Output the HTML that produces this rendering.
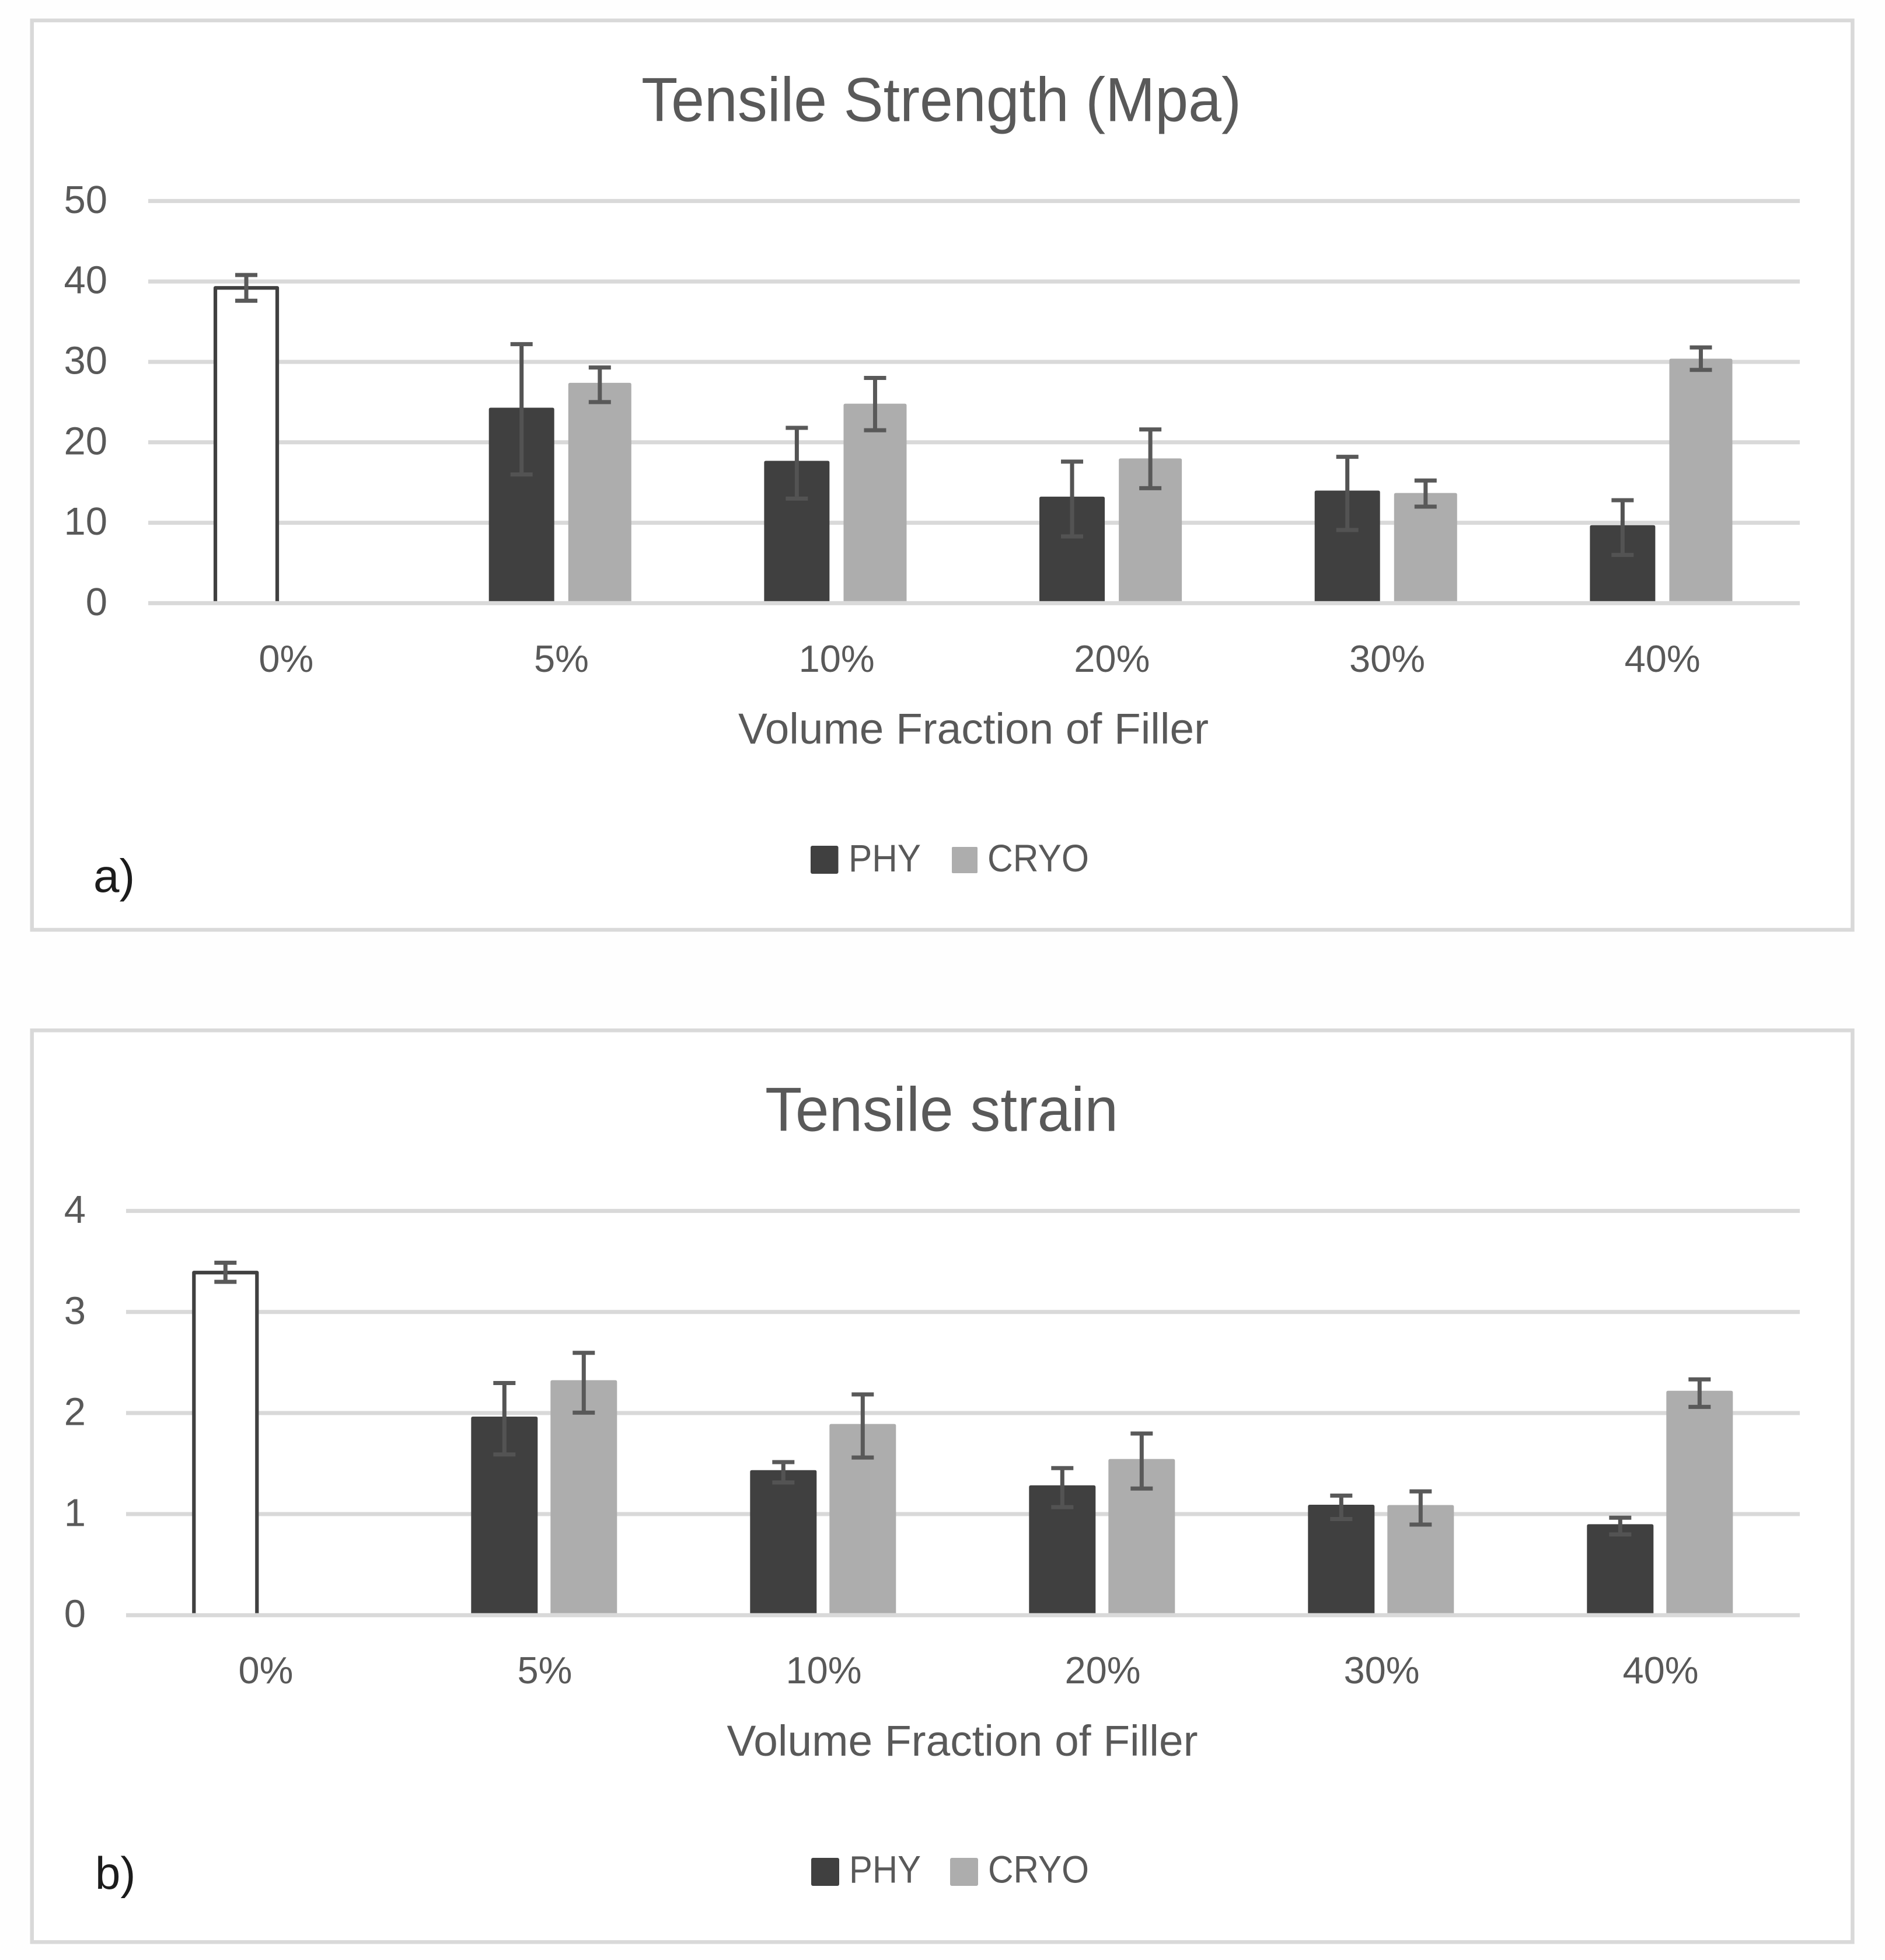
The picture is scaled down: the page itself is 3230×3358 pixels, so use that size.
<!DOCTYPE html>
<html lang="en">
<head>
<meta charset="utf-8">
<title>Tensile Strength and Tensile Strain by Volume Fraction of Filler</title>
<style>
html,body{margin:0;padding:0;background:#fff;width:3230px;height:3358px;overflow:hidden}
svg{display:block}
text{font-family:"Liberation Sans",Arial,sans-serif;fill:#595959}
</style>
</head>
<body>
<svg id="figure" xmlns="http://www.w3.org/2000/svg" width="3230" height="3358" viewBox="0 0 3230 3358">
  <rect x="0" y="0" width="3230" height="3358" fill="#fefefe"/>

  <g id="chart-a">
    <rect x="54.8" y="35" width="3119.6" height="1558" fill="#ffffff" stroke="#d9d9d9" stroke-width="6.5"/>
    <text x="1099" y="207.5" font-size="107" textLength="1028" lengthAdjust="spacingAndGlyphs">Tensile Strength (Mpa)</text>
    <text x="1265" y="1274" font-size="74" textLength="806" lengthAdjust="spacingAndGlyphs">Volume Fraction of Filler</text>
    <g>
      <rect x="1389" y="1449" width="47.5" height="48" rx="3" fill="#404040"/>
      <text x="1454" y="1493" font-size="66" textLength="124" lengthAdjust="spacingAndGlyphs">PHY</text>
      <rect x="1631" y="1451" width="44" height="45" rx="2" fill="#adadad"/>
      <text x="1692" y="1493" font-size="66" textLength="174" lengthAdjust="spacingAndGlyphs">CRYO</text>
    </g>
    <text x="160" y="1528" font-size="80" style="fill:#1c1c1c">a)</text>
  </g>

  <g id="chart-b">
    <rect x="54.8" y="1765.3" width="3119.6" height="1562" fill="#ffffff" stroke="#d9d9d9" stroke-width="6.5"/>
    <text x="1311" y="1937.5" font-size="107" textLength="605" lengthAdjust="spacingAndGlyphs">Tensile strain</text>
    <text x="1245.5" y="3008" font-size="74" textLength="807" lengthAdjust="spacingAndGlyphs">Volume Fraction of Filler</text>
    <g>
      <rect x="1390" y="3183" width="48" height="48" rx="3" fill="#404040"/>
      <text x="1455" y="3225.5" font-size="66" textLength="123" lengthAdjust="spacingAndGlyphs">PHY</text>
      <rect x="1628" y="3183" width="48" height="48" rx="3" fill="#adadad"/>
      <text x="1693" y="3225.5" font-size="66" textLength="173" lengthAdjust="spacingAndGlyphs">CRYO</text>
    </g>
    <text x="163" y="3236" font-size="78" style="fill:#1c1c1c">b)</text>
  </g>
</svg>

<script>
const fillerCategories = ['0%', '5%', '10%', '20%', '30%', '40%'];

const strengthTicks = [0, 10, 20, 30, 40, 50];
const strengthPhy = [39.2, 24.3, 17.7, 13.25, 14.0, 9.7];
const strengthPhyPlus = [1.6, 7.9, 4.1, 4.35, 4.2, 3.1];
const strengthPhyMinus = [1.6, 8.3, 4.7, 4.95, 4.9, 3.7];
const strengthCryo = [null, 27.4, 24.8, 18.0, 13.7, 30.4];
const strengthCryoPlus = [null, 1.9, 3.2, 3.6, 1.55, 1.4];
const strengthCryoMinus = [null, 2.4, 3.3, 3.7, 1.7, 1.4];

const strainTicks = [0, 1, 2, 3, 4];
const strainPhy = [3.39, 1.965, 1.435, 1.285, 1.093, 0.9];
const strainPhyPlus = [0.097, 0.332, 0.079, 0.17, 0.09, 0.064];
const strainPhyMinus = [0.092, 0.375, 0.122, 0.216, 0.142, 0.101];
const strainCryo = [null, 2.325, 1.892, 1.545, 1.09, 2.22];
const strainCryoPlus = [null, 0.271, 0.292, 0.252, 0.135, 0.113];
const strainCryoMinus = [null, 0.321, 0.332, 0.292, 0.194, 0.159];

const SVG_NS = 'http://www.w3.org/2000/svg';

function make(tag, parent, attrs) {
  const el = document.createElementNS(SVG_NS, tag);
  for (const key in attrs) el.setAttribute(key, attrs[key]);
  parent.appendChild(el);
  return el;
}

function drawChart(cfg) {
  const root = document.getElementById(cfg.rootId);
  const maxTick = cfg.ticks[cfg.ticks.length - 1];
  const yScale = v => cfg.y0 - v * (cfg.y0 - cfg.yTop) / maxTick;
  const band = (cfg.xRight - cfg.xLeft) / cfg.categories.length;
  const xScale = i => cfg.xLeft + band * (i + 0.5);
  const floor = cfg.y0 - 3.5;

  const gridGroup = make('g', root, {});
  
  
  const tickGroup = make('g', root, {});
  
  
  cfg.ticks.forEach(t => {
    const line = make('line', gridGroup, {
      x1: cfg.xLeft, x2: cfg.xRight, y1: yScale(t), y2: yScale(t),
      stroke: '#d9d9d9', 'stroke-width': 7
    });
    
    
    const label = make('text', tickGroup, {
      x: cfg.yLabelX, y: yScale(t) + 20.5, 'font-size': 67, 'text-anchor': 'end'
    });
    label.textContent = String(t);
    
    
  });

  const xGroup = make('g', root, {});
  
  
  cfg.categories.forEach((c, i) => {
    const label = make('text', xGroup, {
      x: xScale(i) + 0.5, y: cfg.xLabelY, 'font-size': 65, 'text-anchor': 'middle'
    });
    label.textContent = c;
    
    
  });

  function errorBar(parent, cx, value, plus, minus, color, seriesName, cat) {
    const g = make('g', parent, {});
    
    
    const hi = yScale(value + plus);
    const lo = yScale(value - minus);
    make('line', g, { x1: cx, x2: cx, y1: hi, y2: lo, stroke: color, 'stroke-width': 7 });
    make('line', g, { x1: cx - 19, x2: cx + 19, y1: hi, y2: hi, stroke: '#595959', 'stroke-width': 7 });
    make('line', g, { x1: cx - 19, x2: cx + 19, y1: lo, y2: lo, stroke: color, 'stroke-width': 7 });
  }

  function series(name, values, plus, minus, offset, width, fill, errColor) {
    const group = make('g', root, {});
    
    
    values.forEach((v, i) => {
      if (v === null) return;
      const cat = cfg.categories[i];
      const cx = xScale(i) + offset;
      const top = yScale(v);
      if (i === 0) {
        const half = cfg.hollowWidth / 2;
        const hollow = make('path', group, {
          d: 'M' + (cx - half) + ' ' + floor + 'V' + top + 'H' + (cx + half) + 'V' + floor,
          fill: '#ffffff', stroke: '#404040', 'stroke-width': 6.2, 'stroke-linejoin': 'round'
        });
        
        
        errorBar(group, cx, v, plus[i], minus[i], '#595959', name, cat);
        return;
      }
      const l = cx - width / 2;
      const r = cx + width / 2;
      const rad = 3;
      const bar = make('path', group, {
        d: 'M' + l + ' ' + floor + 'V' + (top + rad) + 'Q' + l + ' ' + top + ' ' + (l + rad) + ' ' + top +
           'H' + (r - rad) + 'Q' + r + ' ' + top + ' ' + r + ' ' + (top + rad) + 'V' + floor + 'Z',
        fill: fill
      });
      
      
      errorBar(group, cx, v, plus[i], minus[i], errColor, name, cat);
    });
  }

  series('phy', cfg.phy, cfg.phyPlus, cfg.phyMinus, cfg.phyOffset, cfg.phyWidth, '#404040', '#535353');
  series('cryo', cfg.cryo, cfg.cryoPlus, cfg.cryoMinus, cfg.cryoOffset, cfg.cryoWidth, '#adadad', '#595959');
}

drawChart({
  rootId: 'chart-a', categories: fillerCategories, ticks: strengthTicks,
  phy: strengthPhy, phyPlus: strengthPhyPlus, phyMinus: strengthPhyMinus,
  cryo: strengthCryo, cryoPlus: strengthCryoPlus, cryoMinus: strengthCryoMinus,
  xLeft: 254, xRight: 3084, yTop: 344.4, y0: 1033.4, yLabelX: 184, xLabelY: 1151,
  phyOffset: -67.8, cryoOffset: 66.3, phyWidth: 112, cryoWidth: 108, hollowWidth: 106
});

drawChart({
  rootId: 'chart-b', categories: fillerCategories, ticks: strainTicks,
  phy: strainPhy, phyPlus: strainPhyPlus, phyMinus: strainPhyMinus,
  cryo: strainCryo, cryoPlus: strainCryoPlus, cryoMinus: strainCryoMinus,
  xLeft: 216, xRight: 3084, yTop: 2074.6, y0: 2767.2, yLabelX: 147, xLabelY: 2884,
  phyOffset: -68.7, cryoOffset: 67.3, phyWidth: 114, cryoWidth: 114, hollowWidth: 108
});
</script>
</body>
</html>
